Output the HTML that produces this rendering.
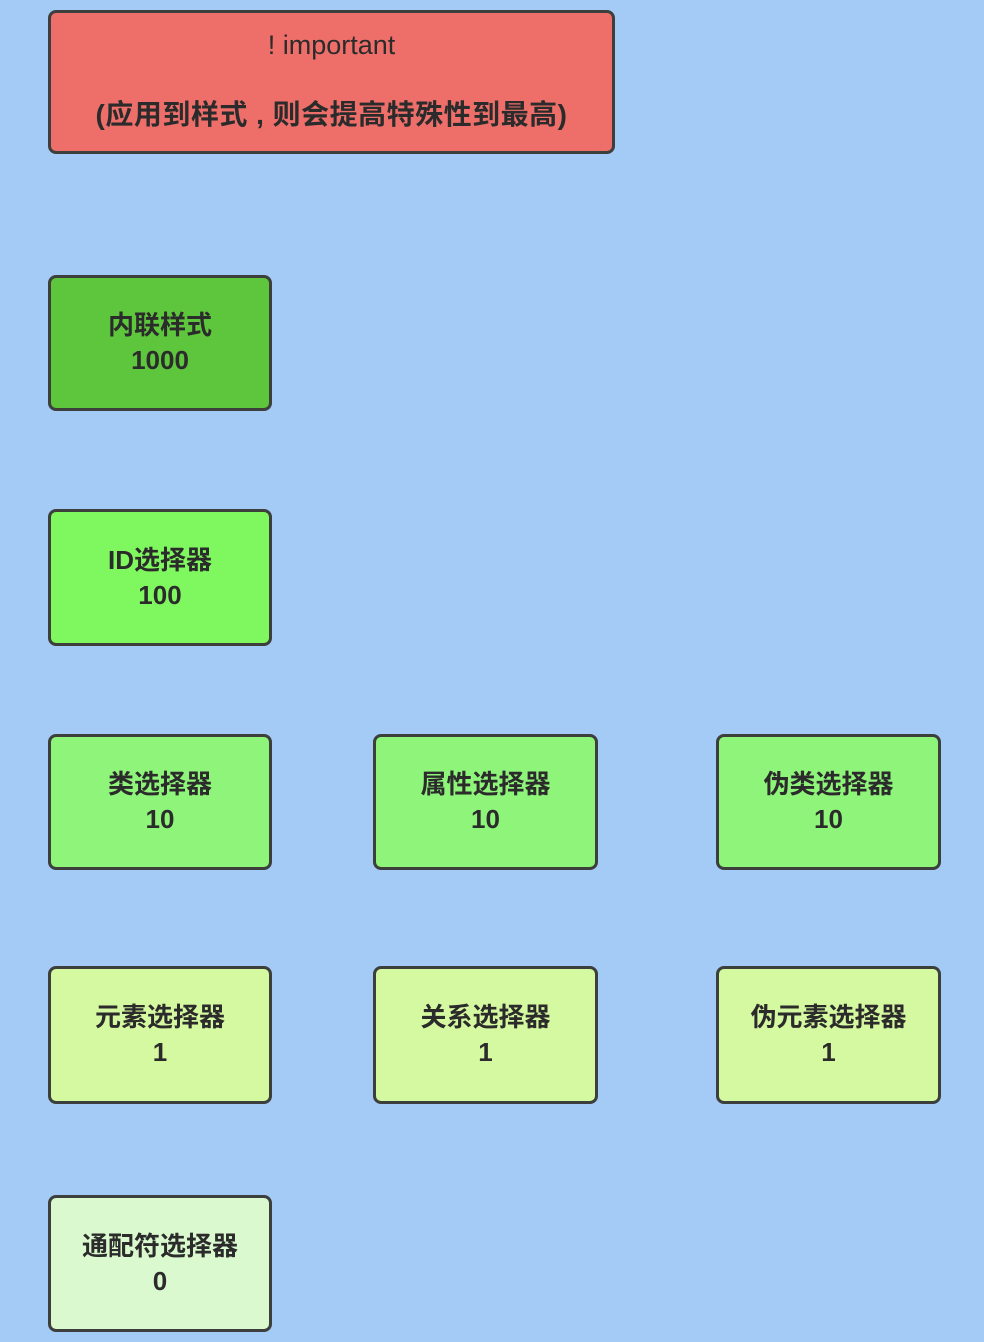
<!DOCTYPE html>
<html><head><meta charset="utf-8"><style>
body{margin:0;width:984px;height:1342px;background:#a4cbf6;position:relative;overflow:hidden;font-family:"Liberation Sans","Noto Sans CJK SC",sans-serif;}
.b{position:absolute;box-sizing:border-box;border:3px solid #3c3f3c;border-radius:8px;display:flex;flex-direction:column;align-items:center;justify-content:center;color:#2b2b2b;font-size:26px;line-height:35px;font-weight:bold;text-align:center;}
.c1{left:48px;width:224px}.c2{left:373px;width:225px}.c3{left:716px;width:225px}
</style></head><body>
<div class="b" style="left:48px;top:10px;width:567px;height:144px;background:#ee6f6a;line-height:36px;justify-content:flex-start;padding-top:14px;font-weight:normal"><div style="font-size:27px">! important</div><div style="margin-top:34px;font-weight:bold;font-size:28px;letter-spacing:0.5px">(应用到样式 , 则会提高特殊性到最高)</div></div>
<div class="b c1" style="top:275px;height:136px;background:#5dc63c">内联样式<br>1000</div>
<div class="b c1" style="top:509px;height:137px;background:#7ff75e">ID选择器<br>100</div>
<div class="b c1" style="top:734px;height:136px;background:#8ef47a">类选择器<br>10</div>
<div class="b c2" style="top:734px;height:136px;background:#8ef47a">属性选择器<br>10</div>
<div class="b c3" style="top:734px;height:136px;background:#8ef47a">伪类选择器<br>10</div>
<div class="b c1" style="top:966px;height:138px;background:#d5f9a0">元素选择器<br>1</div>
<div class="b c2" style="top:966px;height:138px;background:#d5f9a0">关系选择器<br>1</div>
<div class="b c3" style="top:966px;height:138px;background:#d5f9a0">伪元素选择器<br>1</div>
<div class="b c1" style="top:1195px;height:137px;background:#daf9cf">通配符选择器<br>0</div>
</body></html>
